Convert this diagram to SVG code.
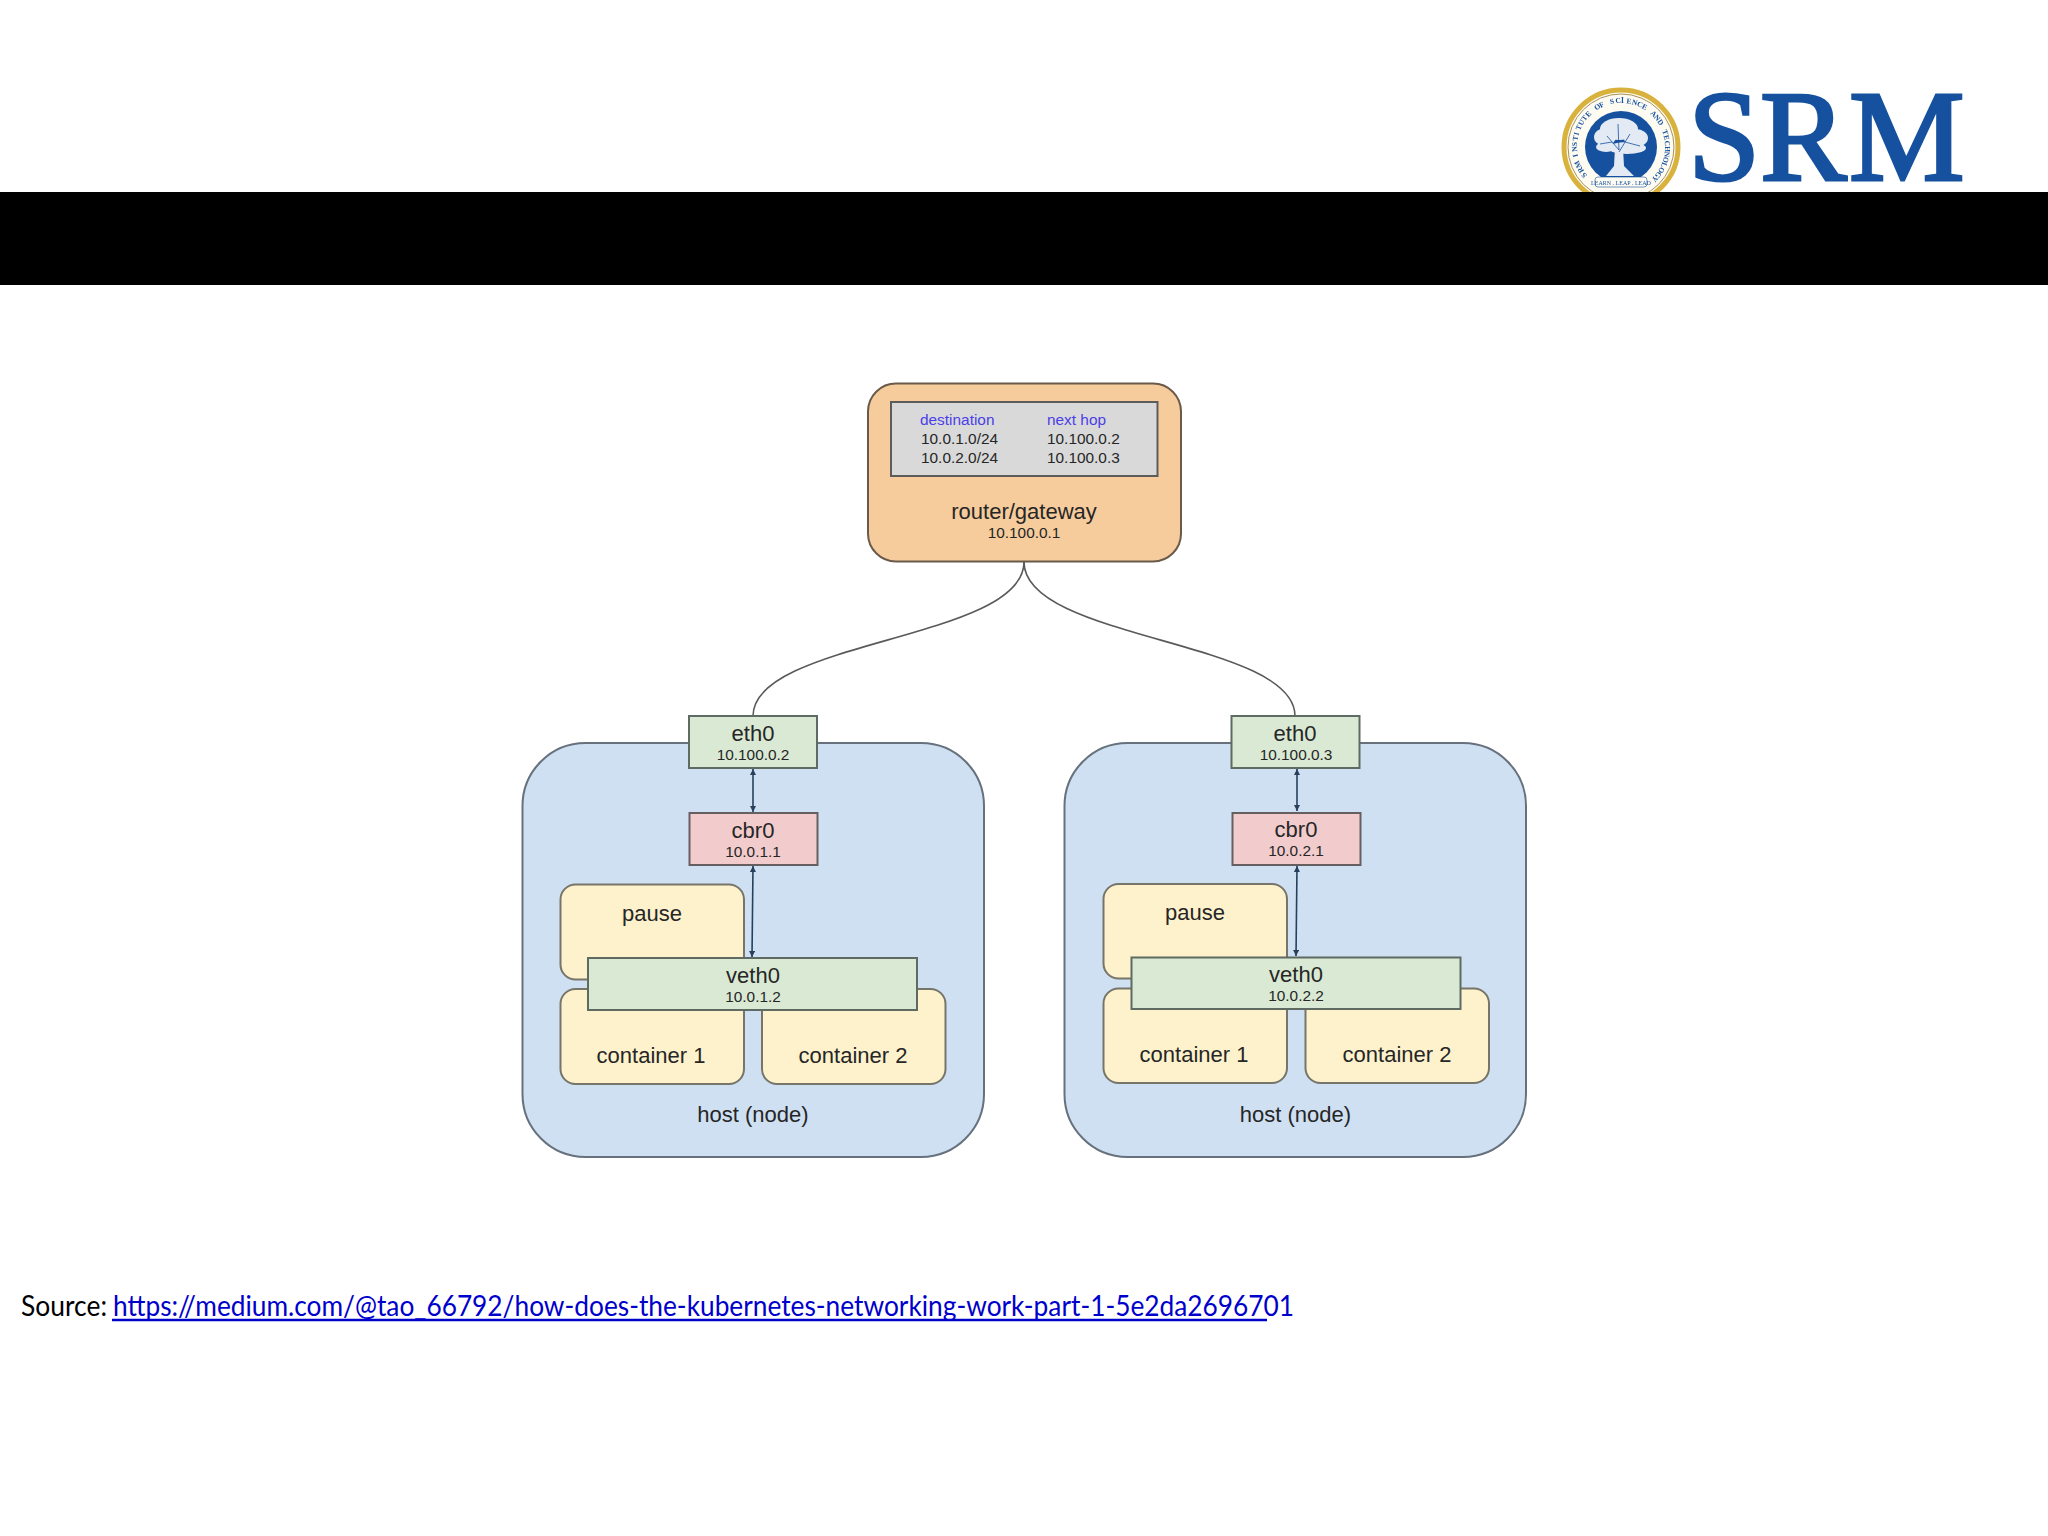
<svg xmlns="http://www.w3.org/2000/svg" width="2048" height="1536" viewBox="0 0 2048 1536">
<style>
text{font-family:"Liberation Sans",Arial,sans-serif;fill:#262626}
.m{text-anchor:middle}
.t{font-size:22px}
.s{font-size:15.4px}
.host{fill:#cfe0f3;stroke:#66717d;stroke-width:2}
.green{fill:#d9e9d3;stroke:#5f6b62;stroke-width:2}
.pink{fill:#f2cccc;stroke:#665f61;stroke-width:2}
.yellow{fill:#fef2cc;stroke:#77756a;stroke-width:2}
.curve{fill:none;stroke:#5a5a5a;stroke-width:1.6}
.arrow{fill:none;stroke:#26405e;stroke-width:1.6;marker-start:url(#ah);marker-end:url(#ah)}
.logo{font-family:"Liberation Serif",serif;fill:#15519f}
</style>
<defs>
<marker id="ah" markerWidth="7" markerHeight="7" refX="6" refY="3" orient="auto-start-reverse" markerUnits="userSpaceOnUse"><path d="M0 0L6 3L0 6Z" fill="#26405e"/></marker>
<filter id="soft" x="-5%" y="-5%" width="110%" height="110%"><feGaussianBlur stdDeviation="0.5"/></filter>
</defs>
<rect width="2048" height="1536" fill="#fff"/>
<g id="logo" filter="url(#soft)">
<circle cx="1621" cy="147" r="57" fill="#fdfbf2" stroke="#d8b23c" stroke-width="5"/>
<circle cx="1621" cy="147" r="53" fill="none" stroke="#a8915a" stroke-width="1"/>
<circle cx="1621" cy="147" r="36" fill="#15519f"/>
<g fill="#e4eaf3">
<ellipse cx="1619" cy="129" rx="19" ry="11"/>
<ellipse cx="1605" cy="137" rx="11" ry="9"/>
<ellipse cx="1636" cy="138" rx="12" ry="9"/>
<ellipse cx="1627" cy="148" rx="19" ry="6"/>
<ellipse cx="1606" cy="147" rx="10" ry="5"/>
<path d="M1615 148L1623 148L1624 166L1634 176L1606 176L1614 166Z"/>
</g>
<g stroke="#15519f" stroke-width="0.800" fill="none">
<path d="M1619 150L1607 136M1619 152L1630 134M1612 142L1600 144M1625 142L1640 146M1619 150L1618 124"/>
</g>
<text class="logo" font-size="7.500" font-weight="700" x="1587.300 1584.200 1581.600 1579.500 1578.100 1577.200 1577 1577.400 1578.500 1580.100 1582.300 1585.100 1588.400 1592 1596.300 1600.800 1605.600 1610.600 1615.800 1621 1626.200 1631.400 1636.400 1641.200 1645.700 1650 1653.600 1656.900 1659.700 1661.900 1663.500 1664.600 1665 1664.800 1663.900 1662.500 1660.400 1657.800 1654.700" y="175.300 171.100 166.500 161.700 156.600 151.400 146.200 141 135.800 130.800 126.100 121.600 117.500 113.800 110.600 107.900 105.800 104.200 103.300 103 103.300 104.200 105.800 107.900 110.600 113.800 117.500 121.600 126.100 130.800 135.800 141 146.200 151.400 156.600 161.700 166.500 171.100 175.300" rotate="-130 -123.200 -116.300 -109.500 -102.600 -95.800 -88.900 -82.100 -75.300 -68.400 -61.600 -54.700 -47.900 -41.100 -34.200 -27.400 -20.500 -13.700 -6.800 0 6.800 13.700 20.500 27.400 34.200 41.100 47.900 54.700 61.600 68.400 75.300 82.100 88.900 95.800 102.600 109.500 116.300 123.200 130">SRM INSTITUTE OF SCIENCE AND TECHNOLOGY</text>
<rect x="1595" y="177" width="52" height="10" rx="3" fill="#fdfbf2" stroke="#15519f" stroke-width="0.600"/>
<text class="logo m" x="1621" y="184.500" font-size="6">LEARN . LEAP . LEAD</text>
<text class="logo" x="1688 1760 1849" y="180" font-size="130" stroke="#15519f" stroke-width="3">SRM</text>
</g>
<rect id="band" x="0" y="192" width="2048" height="93" fill="#000"/>

<g id="host-left"><rect class="host" x="522.500" y="743" width="461.500" height="414" rx="63"/><text class="t m" x="753" y="1122">host (node)</text></g>
<g id="host-right"><rect class="host" x="1064.500" y="743" width="461.500" height="414" rx="63"/><text class="t m" x="1295.500" y="1122">host (node)</text></g>

<g id="connectors">
<path class="curve" d="M1024 562C1024 640 753 640 753 716"/>
<path class="curve" d="M1024 562C1024 640 1295 640 1295 716"/>
<path class="arrow" d="M753 769V812"/>
<path class="arrow" d="M753 866L752 957"/>
<path class="arrow" d="M1297 769V811"/>
<path class="arrow" d="M1297 866L1296 956"/>
</g>

<g id="router">
<rect x="868" y="383.500" width="313" height="178" rx="28" fill="#f6cc9c" stroke="#6a5a4a" stroke-width="2"/>
<rect x="891" y="402" width="266.500" height="74" fill="#d9d9d9" stroke="#5c5c5c" stroke-width="2"/>
<text class="s" x="920" y="425" style="fill:#4a40e8">destination</text>
<text class="s" x="1047" y="425" style="fill:#4a40e8">next hop</text>
<text class="s" x="921" y="444">10.0.1.0/24</text>
<text class="s" x="1047" y="444">10.100.0.2</text>
<text class="s" x="921" y="463">10.0.2.0/24</text>
<text class="s" x="1047" y="463">10.100.0.3</text>
<text class="t m" x="1024" y="519">router/gateway</text>
<text class="s m" x="1024" y="538">10.100.0.1</text>
</g>

<g id="eth0-left"><rect class="green" x="689" y="716" width="128" height="52"/><text class="t m" x="753" y="741">eth0</text><text class="s m" x="753" y="760">10.100.0.2</text></g>
<g id="cbr0-left"><rect class="pink" x="689.500" y="813" width="128" height="52"/><text class="t m" x="753" y="838">cbr0</text><text class="s m" x="753" y="857">10.0.1.1</text></g>
<g id="pause-left"><rect class="yellow" x="560.500" y="884.500" width="183.500" height="95" rx="15"/><text class="t m" x="652" y="921">pause</text></g>
<g id="container1-left"><rect class="yellow" x="560.500" y="989" width="183.500" height="95" rx="15"/><text class="t m" x="651" y="1063">container 1</text></g>
<g id="container2-left"><rect class="yellow" x="762" y="989" width="183.500" height="95" rx="15"/><text class="t m" x="853" y="1063">container 2</text></g>
<g id="veth0-left"><rect class="green" x="588" y="958" width="329" height="52"/><text class="t m" x="753" y="983">veth0</text><text class="s m" x="753" y="1002">10.0.1.2</text></g>

<g id="eth0-right"><rect class="green" x="1231.500" y="716" width="128" height="52"/><text class="t m" x="1295" y="741">eth0</text><text class="s m" x="1296" y="760">10.100.0.3</text></g>
<g id="cbr0-right"><rect class="pink" x="1232.500" y="813" width="128" height="52"/><text class="t m" x="1296" y="837">cbr0</text><text class="s m" x="1296" y="856">10.0.2.1</text></g>
<g id="pause-right"><rect class="yellow" x="1103.500" y="884" width="183.500" height="94.500" rx="15"/><text class="t m" x="1195" y="920">pause</text></g>
<g id="container1-right"><rect class="yellow" x="1103.500" y="988.500" width="183.500" height="94.500" rx="15"/><text class="t m" x="1194" y="1062">container 1</text></g>
<g id="container2-right"><rect class="yellow" x="1305.500" y="988.500" width="183.500" height="94.500" rx="15"/><text class="t m" x="1397" y="1062">container 2</text></g>
<g id="veth0-right"><rect class="green" x="1131.500" y="957.500" width="329" height="51.500"/><text class="t m" x="1296" y="982">veth0</text><text class="s m" x="1296" y="1001">10.0.2.2</text></g>

<g id="source">
<text x="21" y="1316" font-size="28" textLength="86" lengthAdjust="spacingAndGlyphs" style="font-family:Lato,'Liberation Sans',sans-serif;fill:#000">Source:</text>
<text x="113" y="1316" font-size="28" textLength="1181" lengthAdjust="spacingAndGlyphs" style="font-family:Lato,'Liberation Sans',sans-serif;fill:#0000cc">https://medium.com/@tao_66792/how-does-the-kubernetes-networking-work-part-1-5e2da2696701</text>
<line x1="112" y1="1320" x2="1267" y2="1320" stroke="#0000cc" stroke-width="2.500"/>
</g>
</svg>
